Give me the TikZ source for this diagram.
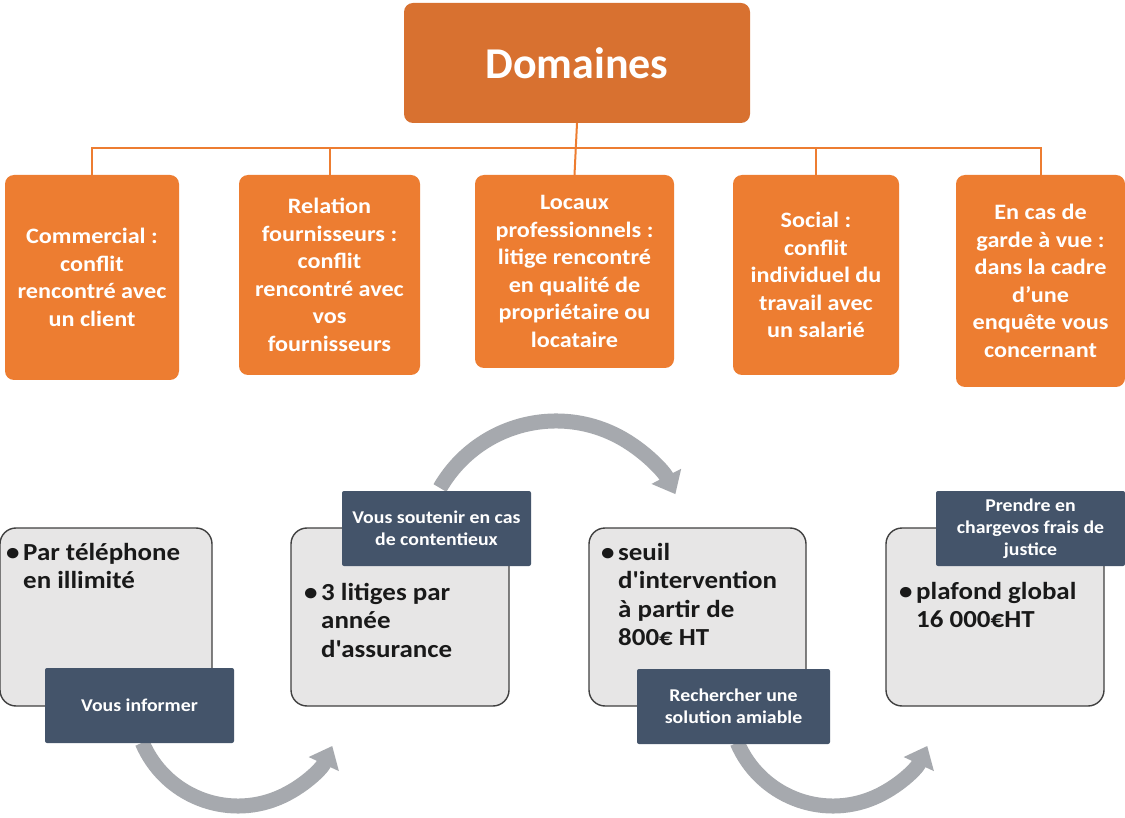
\documentclass[tikz,border=0pt]{standalone}
\usepackage{fontspec}
\setmainfont{Carlito}
\newfontfamily\cfont{Carlito}[FakeStretch=1.1]
\newfontfamily\gfont{Carlito}[FakeStretch=1.1,Ligatures=TeXOff]
\usetikzlibrary{arrows.meta}
\definecolor{orangeD}{HTML}{D87130}
\definecolor{orangeL}{HTML}{ED7D31}
\definecolor{slate}{HTML}{44546A}
\definecolor{lgray}{HTML}{E7E6E6}
\definecolor{bgray}{HTML}{404040}
\definecolor{agray}{HTML}{A6A9AE}
\begin{document}
\begin{tikzpicture}[x=1pt,y=-1pt,
 topbox/.style={fill=orangeD, rounded corners=9pt, inner sep=0pt, text=white, font=\bfseries\fontsize{44}{50}\selectfont},
 obox/.style={fill=orangeL, rounded corners=9pt, inner sep=0pt, text=white, align=center, font=\cfont\bfseries\fontsize{22}{27.5}\selectfont},
 gbox/.style={fill=lgray, draw=bgray, line width=1.4pt, rounded corners=16pt, inner sep=0pt},
 gtext/.style={inner sep=0pt, anchor=base west, font=\gfont\bfseries\fontsize{24.5}{28.5}\selectfont, text=black!90},
 dbox/.style={fill=slate, rounded corners=2pt, inner sep=0pt, text=white, align=center, font=\cfont\bfseries\fontsize{18}{22}\selectfont},
 conn/.style={draw=orangeL, line width=2pt},
 carrow/.style={draw=agray, line width=15pt, -{Triangle[width=32pt,length=20pt]}}
]
\useasboundingbox (0,0) rectangle (1125,818);
\fill[white] (0,0) rectangle (1125,818);

% top part
\node[topbox, minimum width=346pt, minimum height=120pt] (top) at (577,63) {Domaines};
\node[obox, minimum width=174pt, minimum height=205pt] (b1) at (92,277.5) {Commercial :\\conflit\\rencontré avec\\un client};
\node[obox, minimum width=181pt, minimum height=200pt] (b2) at (329.5,275) {Relation\\fournisseurs :\\conflit\\rencontré avec\\vos\\fournisseurs};
\node[obox, minimum width=199pt, minimum height=193pt] (b3) at (574.5,271.5) {Locaux\\professionnels :\\litige rencontré\\en qualité de\\propriétaire ou\\locataire};
\node[obox, minimum width=166pt, minimum height=200pt] (b4) at (816,275) {Social :\\conflit\\individuel du\\travail avec\\un salarié};
\node[obox, minimum width=169pt, minimum height=212pt] (b5) at (1040.5,281) {En cas de\\garde à vue :\\dans la cadre\\d’une\\enquête vous\\concernant};

\coordinate (bus) at (577,148);
\draw[conn] (top.south) -- (b3.north);
\draw[conn] (b1.north) |- (bus) -| (b5.north);
\draw[conn] (b2.north) -- (b2.north |- bus);
\draw[conn] (b4.north) -- (b4.north |- bus);

% circular arrows
\draw[carrow] (238,702) ++(157:104) arc[start angle=157, end angle=25, radius=104];
\draw[carrow] (556,555) ++(-150:134) arc[start angle=-150, end angle=-27, radius=134];
\draw[carrow] (833,702) ++(157:104) arc[start angle=157, end angle=25, radius=104];

% gray boxes
\node[gbox, minimum width=212pt, minimum height=178pt] (g1) at (106,617) {};
\node[gbox, minimum width=218pt, minimum height=178pt] (g2) at (400,617) {};
\node[gbox, minimum width=217pt, minimum height=178pt] (g3) at (697.5,617) {};
\node[gbox, minimum width=218pt, minimum height=178pt] (g4) at (995,617) {};

\node[gtext] (t1) at (6,560) {\begin{tabular}[t]{@{}p{17pt}@{}l@{}}•&Par téléphone\\&en illimité\end{tabular}};
\node[gtext] (t2) at (304,600) {\begin{tabular}[t]{@{}p{17pt}@{}l@{}}•&3 litiges par\\&année\\&d'assurance\end{tabular}};
\node[gtext] (t3) at (601,560) {\begin{tabular}[t]{@{}p{17pt}@{}l@{}}•&seuil\\&d'intervention\\&à partir de\\&800€ HT\end{tabular}};
\node[gtext] (t4) at (899,599) {\begin{tabular}[t]{@{}p{17pt}@{}l@{}}•&plafond global\\&16 000€HT\end{tabular}};

% dark boxes
\node[dbox, minimum width=189pt, minimum height=75pt] (d1) at (139.5,705.5) {Vous informer};
\node[dbox, minimum width=189pt, minimum height=75pt] (d2) at (436.5,528.5) {Vous soutenir en cas\\de contentieux};
\node[dbox, minimum width=193pt, minimum height=75pt] (d3) at (733.5,706.5) {Rechercher une\\solution amiable};
\node[dbox, minimum width=189pt, minimum height=75pt] (d4) at (1030.5,528.5) {Prendre en\\chargevos frais de\\justice};
\end{tikzpicture}
\end{document}
